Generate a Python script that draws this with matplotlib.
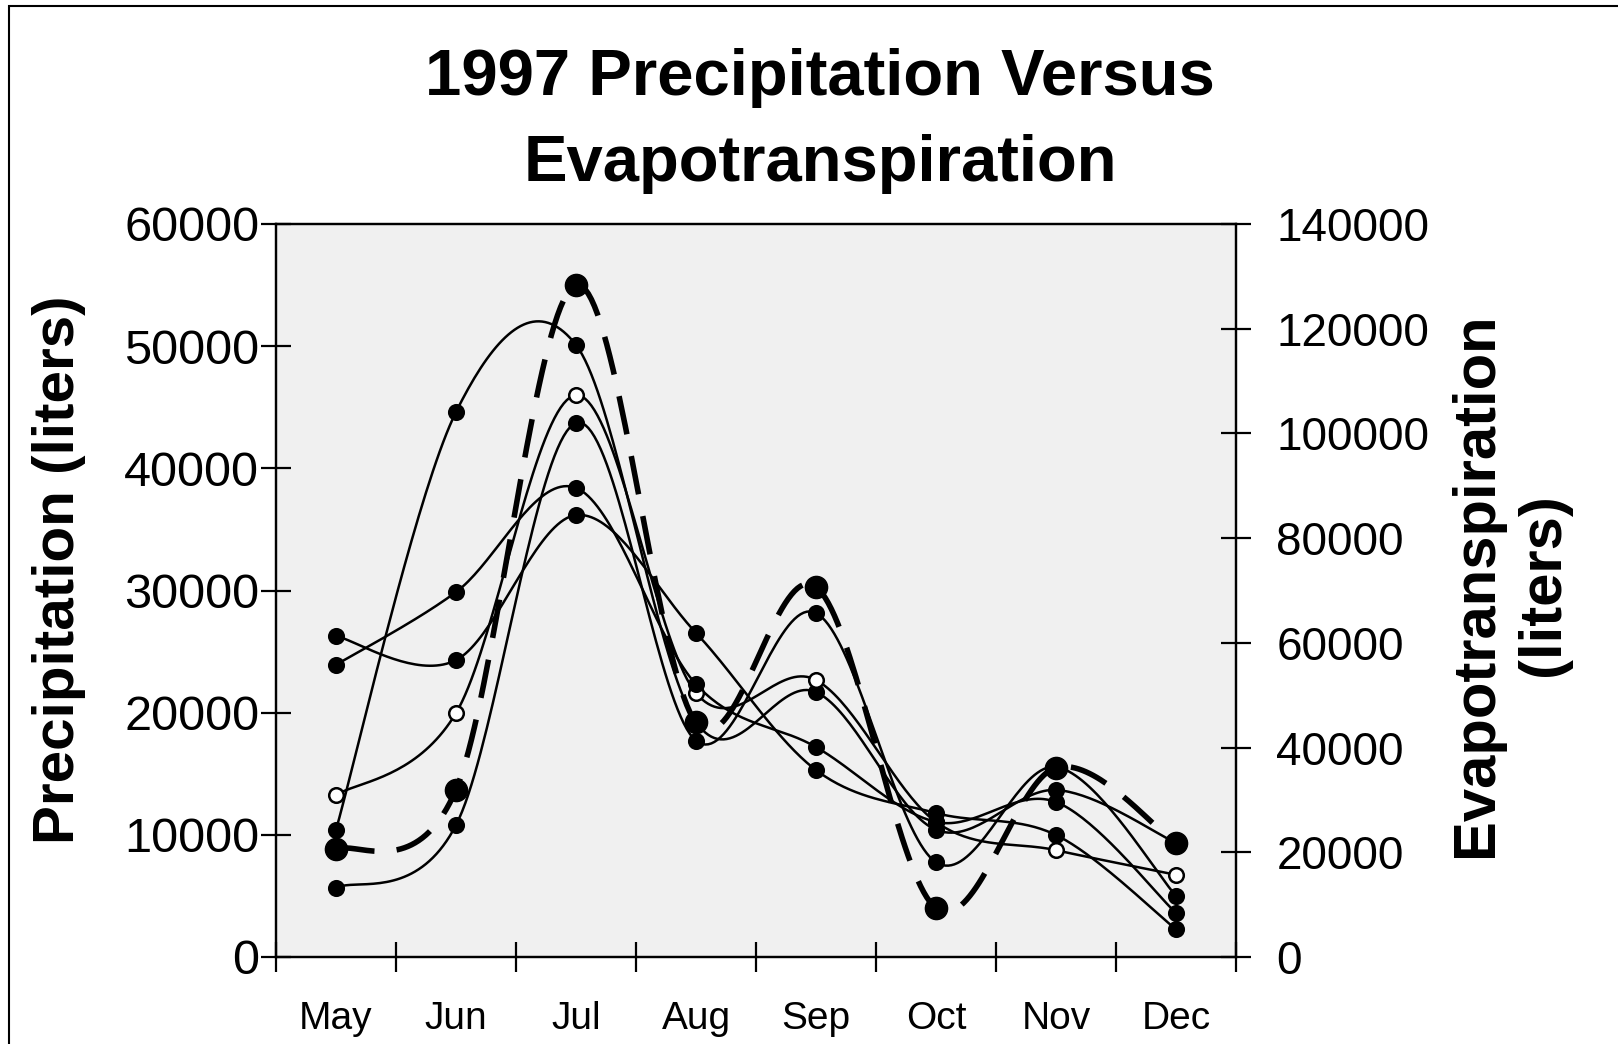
import numpy as np
import matplotlib
matplotlib.use('Agg')
import matplotlib.pyplot as plt

plt.rcParams['font.family'] = ['Liberation Sans', 'DejaVu Sans']

months = ['May', 'Jun', 'Jul', 'Aug', 'Sep', 'Oct', 'Nov', 'Dec']

# precipitation (left axis, liters)
precip = [8800, 13700, 55000, 19200, 30300, 4000, 15500, 9300]

# evapotranspiration estimates (right axis, liters)
et_a = [24300, 104100, 116900, 44900, 50600, 24300, 31900, 21800]
et_b = [30900, 46600, 107300, 50400, 52900, 25800, 20400, 15700]
et_c = [61300, 56700, 84400, 61900, 35700, 27500, 23300, 5300]
et_d = [55800, 69700, 89600, 52100, 40100, 25800, 29600, 8400]
et_e = [13200, 25200, 102000, 41300, 65700, 18100, 36300, 11700]


def smooth(vals, steps=40):
    # excel style smoothed line: bezier segments, catmull-rom like handles
    pts = np.column_stack([np.arange(len(vals), dtype=float),
                           np.asarray(vals, dtype=float)])
    n = len(pts)
    out = []
    t = np.linspace(0, 1, steps)[:, None]
    for i in range(n - 1):
        p0, p3 = pts[i], pts[i + 1]
        prev = pts[i - 1] if i > 0 else pts[i]
        nxt = pts[i + 2] if i + 2 < n else pts[i + 1]
        c1 = p0 + (p3 - prev) / 6
        c2 = p3 - (nxt - p0) / 6
        seg = ((1 - t) ** 3 * p0 + 3 * (1 - t) ** 2 * t * c1
               + 3 * (1 - t) * t ** 2 * c2 + t ** 3 * p3)
        out.append(seg if i == 0 else seg[1:])
    s = np.vstack(out)
    return s[:, 0], s[:, 1]


fig = plt.figure(figsize=(16.18, 10.44), dpi=100)
ax = fig.add_axes([276 / 1618, 1 - 957 / 1044, 960 / 1618, 733 / 1044])
ax2 = ax.twinx()

x = np.arange(len(months))

for vals, face in [(et_a, 'black'), (et_b, 'white'), (et_c, 'black'),
                   (et_d, 'black'), (et_e, 'black')]:
    sx, sy = smooth(vals)
    ax2.plot(sx, sy, color='black', lw=1.8, zorder=3)
    ax2.plot(x, vals, 'o', ms=10.5, mfc=face, mec='black', mew=1.8, zorder=4)

sx, sy = smooth(precip)
ax.plot(sx, sy, color='black', lw=4, dashes=(7, 4), zorder=3)
ax.plot(x, precip, 'o', ms=16, color='black', zorder=4)
ax.set_zorder(ax2.get_zorder() + 1)
ax.patch.set_visible(False)
ax2.patch.set_visible(True)
ax2.patch.set_facecolor('#f0f0f0')

ax.set_xlim(-0.5, 7.5)
ax.set_ylim(0, 60000)
ax2.set_ylim(0, 140000)
ax.set_yticks(np.arange(0, 60001, 10000))
ax2.set_yticks(np.arange(0, 140001, 20000))

ax.set_xticks(np.arange(-0.5, 8, 1))
ax.set_xticklabels([])
ax.set_xticks(x, minor=True)
ax.set_xticklabels(months, minor=True, fontsize=28)
ax.tick_params(axis='x', which='minor', length=0, pad=32)
ax.tick_params(axis='x', which='major', direction='inout', length=22, width=1.6)
ax.tick_params(axis='y', direction='inout', length=22, width=1.6,
               labelsize=35, pad=1)
ax2.tick_params(axis='y', direction='inout', length=22, width=1.6,
                labelsize=33, pad=18)

for a in (ax, ax2):
    for sp in a.spines.values():
        sp.set_linewidth(1.6)

fig.text(0.507, 1 - 78 / 1044, '1997 Precipitation Versus', ha='center',
         va='center', fontsize=47, fontweight='bold')
fig.text(0.507, 1 - 164 / 1044, 'Evapotranspiration', ha='center',
         va='center', fontsize=47, fontweight='bold')
fig.text(59 / 1618, 1 - 570 / 1044, 'Precipitation (liters)', rotation=90,
         ha='center', va='center', fontsize=42, fontweight='bold')
fig.text(1510 / 1618, 1 - 585 / 1044, 'Evapotranspiration\n(liters)',
         rotation=90, ha='center', va='center', fontsize=43,
         fontweight='bold', multialignment='center', linespacing=1.3)

fig.patches.append(plt.Rectangle((9 / 1618, -0.1), 2, 1 - 6 / 1044 + 0.1,
                                 transform=fig.transFigure, fill=False,
                                 lw=1.5, ec='black'))

fig.savefig('out.png', dpi=100)
